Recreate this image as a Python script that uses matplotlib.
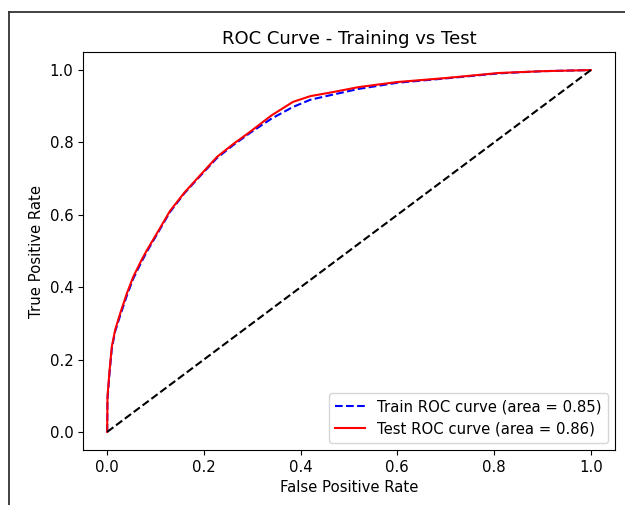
import matplotlib.pyplot as plt
from matplotlib.lines import Line2D

# ROC points
fpr_test = [0, 0.0006, 0.005, 0.0096, 0.0165, 0.027, 0.041, 0.054, 0.071, 0.082, 0.106, 0.13,
            0.16, 0.19, 0.227, 0.26, 0.295, 0.34, 0.384, 0.42, 0.466, 0.52, 0.6, 0.7, 0.81, 0.9, 1.0]
tpr_test = [0, 0.097, 0.171, 0.236, 0.282, 0.328, 0.384, 0.429, 0.475, 0.502, 0.556, 0.611,
            0.662, 0.706, 0.76, 0.795, 0.829, 0.875, 0.912, 0.928, 0.939, 0.953, 0.967, 0.978, 0.992, 0.997, 1.0]

fpr_train = [0, 0.0006, 0.005, 0.0096, 0.0165, 0.027, 0.041, 0.054, 0.071, 0.082, 0.106, 0.13,
             0.16, 0.19, 0.227, 0.26, 0.295, 0.34, 0.384, 0.42, 0.466, 0.52, 0.6, 0.7, 0.81, 0.9, 1.0]
tpr_train = [0, 0.09, 0.165, 0.23, 0.278, 0.322, 0.378, 0.424, 0.47, 0.498, 0.553, 0.608,
             0.66, 0.704, 0.757, 0.792, 0.826, 0.866, 0.898, 0.918, 0.932, 0.948, 0.965, 0.977, 0.991, 0.997, 1.0]

auc_train = 0.85
auc_test = 0.86

fig = plt.figure(figsize=(6.25, 5.05), dpi=100)
ax = fig.add_axes([83 / 625, 1 - 450 / 505, 532 / 625, 398 / 505])

ax.plot(fpr_train, tpr_train, color="blue", linestyle="--", lw=1.5,
        label=f"Train ROC curve (area = {auc_train:.2f})")
ax.plot(fpr_test, tpr_test, color="red", lw=1.5,
        label=f"Test ROC curve (area = {auc_test:.2f})")
ax.plot([0, 1], [0, 1], color="black", linestyle="--", lw=1.5)

ax.set_xlabel("False Positive Rate", fontsize=10.75)
ax.set_ylabel("True Positive Rate", fontsize=10.75)
ax.set_title("ROC Curve - Training vs Test", fontsize=13)
ax.tick_params(labelsize=10.75)
ax.legend(loc="lower right", fontsize=10.75)

# screenshot frame
y_top = 1 - 12 / 505
x_left = 8.5 / 625
fig.add_artist(Line2D([x_left, x_left], [0, y_top], transform=fig.transFigure, color="#333333", lw=1.3))
fig.add_artist(Line2D([x_left, 1], [y_top, y_top], transform=fig.transFigure, color="#333333", lw=1.3))

fig.savefig("out.png", dpi=100)
